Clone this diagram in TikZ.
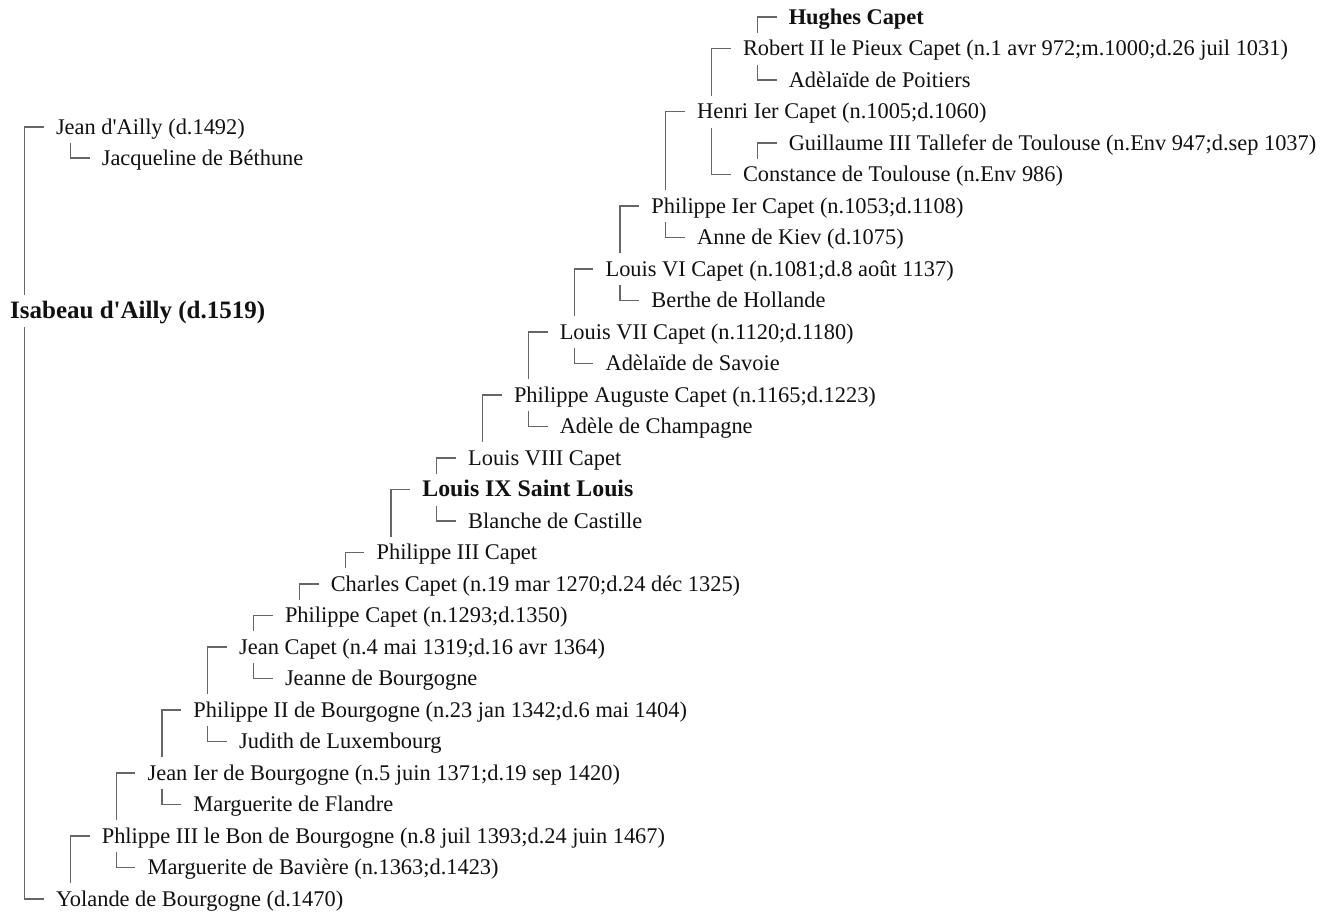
\documentclass[tikz,border=0pt]{standalone}
\usepackage{fontspec}
\setmainfont{Liberation Serif}
\usetikzlibrary{calc}
\definecolor{ink}{HTML}{111111}
\definecolor{wire}{HTML}{666666}
\begin{document}
\begin{tikzpicture}[x=1pt,y=-1pt,
  person/.style={anchor=base west, yshift=-7pt, inner sep=0pt, text=ink,
    font=\fontsize{22.4}{26}\selectfont},
  headperson/.style={person, font=\fontsize{22.4}{26}\selectfont\bfseries},
  boldperson/.style={person, font=\fontsize{23.8}{28}\selectfont\bfseries},
  rootperson/.style={person, font=\fontsize{25}{30}\selectfont\bfseries},
  link/.style={draw=wire, line width=1.2pt}]
\useasboundingbox (0,0) rectangle (1338,914);
\fill[white] (0,0) rectangle (1338,914);

% column of generation k: 10 + 45.8k ; row i: 17 + 31.5i
\node[rootperson] (isabeau) at (10,311) {Isabeau d\textquotesingle Ailly (d.1519)};
\node[person] (jeandailly) at (55.8,127) {Jean d\textquotesingle Ailly (d.1492)};
\node[person] (jacqueline) at (101.6,158) {Jacqueline de Béthune};

\node[headperson] (hughes) at (788.6,17) {Hughes Capet};
\node[person] (robert) at (742.8,48.5) {Robert II le Pieux Capet (n.1 avr 972;m.1000;d.26 juil 1031)};
\node[person] (adpoit) at (788.6,80) {Adèlaïde de Poitiers};
\node[person] (henri) at (697,111.5) {Henri Ier Capet (n.1005;d.1060)};
\node[person] (guillaume) at (788.6,143) {Guillaume III Tallefer de Toulouse (n.Env 947;d.sep 1037)};
\node[person] (constance) at (742.8,174.5) {Constance de Toulouse (n.Env 986)};
\node[person] (phil1) at (651.2,206) {Philippe Ier Capet (n.1053;d.1108)};
\node[person] (anne) at (697,237.5) {Anne de Kiev (d.1075)};
\node[person] (louis6) at (605.4,269) {Louis VI Capet (n.1081;d.8 août 1137)};
\node[person] (berthe) at (651.2,300.5) {Berthe de Hollande};
\node[person] (louis7) at (559.6,332) {Louis VII Capet (n.1120;d.1180)};
\node[person] (adsav) at (605.4,363.5) {Adèlaïde de Savoie};
\node[person] (philaug) at (513.8,395) {Philippe Auguste Capet (n.1165;d.1223)};
\node[person] (adele) at (559.6,426.5) {Adèle de Champagne};
\node[person] (louis8) at (468,458) {Louis VIII Capet};
\node[boldperson] (louis9) at (422.2,489.5) {Louis IX Saint Louis};
\node[person] (blanche) at (468,521) {Blanche de Castille};
\node[person] (phil3) at (376.4,552.5) {Philippe III Capet};
\node[person] (charles) at (330.6,584) {Charles Capet (n.19 mar 1270;d.24 déc 1325)};
\node[person] (philcap) at (284.8,615.5) {Philippe Capet (n.1293;d.1350)};
\node[person] (jeancap) at (239,647) {Jean Capet (n.4 mai 1319;d.16 avr 1364)};
\node[person] (jeanne) at (284.8,678.5) {Jeanne de Bourgogne};
\node[person] (phil2) at (193.2,710) {Philippe II de Bourgogne (n.23 jan 1342;d.6 mai 1404)};
\node[person] (judith) at (239,741.5) {Judith de Luxembourg};
\node[person] (jean1) at (147.4,773) {Jean Ier de Bourgogne (n.5 juin 1371;d.19 sep 1420)};
\node[person] (margfl) at (193.2,804.5) {Marguerite de Flandre};
\node[person] (phil3bon) at (101.6,836) {Phlippe III le Bon de Bourgogne (n.8 juil 1393;d.24 juin 1467)};
\node[person] (margbav) at (147.4,867.5) {Marguerite de Bavière (n.1363;d.1423)};
\node[person] (yolande) at (55.8,899) {Yolande de Bourgogne (d.1470)};

% father: corner above the child, mother: corner below the child
\def\father#1#2{\draw[link] ($(#1.base west)+(14.5,-23)$) |- ($(#2.base west)+(-12,-7)$);}
\def\mother#1#2{\draw[link] ($(#1.base west)+(14.5,9)$) |- ($(#2.base west)+(-12,-7)$);}

\father{isabeau}{jeandailly}
\mother{isabeau}{yolande}
\mother{jeandailly}{jacqueline}
\father{yolande}{phil3bon}
\father{phil3bon}{jean1}
\mother{phil3bon}{margbav}
\father{jean1}{phil2}
\mother{jean1}{margfl}
\father{phil2}{jeancap}
\mother{phil2}{judith}
\father{jeancap}{philcap}
\mother{jeancap}{jeanne}
\father{philcap}{charles}
\father{charles}{phil3}
\father{phil3}{louis9}
\father{louis9}{louis8}
\mother{louis9}{blanche}
\father{louis8}{philaug}
\father{philaug}{louis7}
\mother{philaug}{adele}
\father{louis7}{louis6}
\mother{louis7}{adsav}
\father{louis6}{phil1}
\mother{louis6}{berthe}
\father{phil1}{henri}
\mother{phil1}{anne}
\father{henri}{robert}
\mother{henri}{constance}
\father{robert}{hughes}
\mother{robert}{adpoit}
\father{constance}{guillaume}
\end{tikzpicture}
\end{document}
